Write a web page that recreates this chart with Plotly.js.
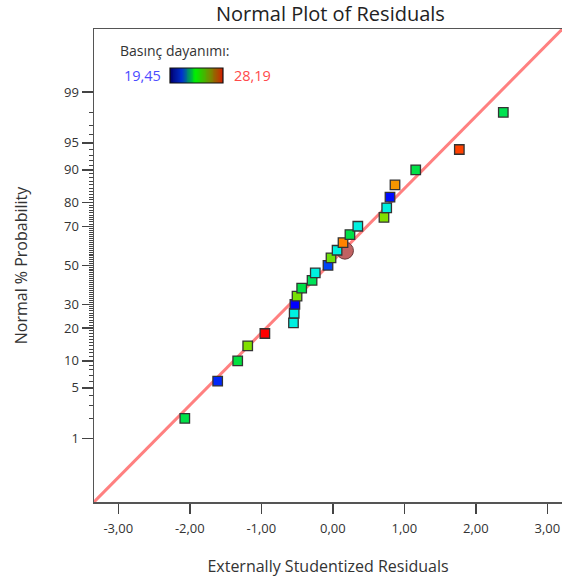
<!DOCTYPE html>
<html>
<head>
<meta charset="utf-8">
<script src="https://cdn.plot.ly/plotly-3.0.1.min.js"></script>
<style>html,body{margin:0;padding:0;background:#fff;}#chart{width:562px;height:582px;}</style>
</head>
<body>
<div id="chart"></div>
<script>
// ---- data ----
const residuals = [-2.07, -1.61, -1.33, -1.19, -0.95, -0.55, -0.54, -0.53, -0.50, -0.435,
                   -0.29, -0.245, -0.067, -0.025, 0.06, 0.143, 0.24, 0.35, 0.716, 0.754,
                   0.80, 0.87, 1.16, 1.77, 2.385];
const probability = [2, 6, 10, 14, 18, 22, 26, 30, 34, 38, 42, 46, 50, 54, 58, 62, 66, 70,
                     74, 78, 82, 86, 90, 94, 98];
const response = [23.3, 19.8, 23.4, 24.7, 28.19, 21.6, 21.6, 19.45, 24.6, 23.3,
                  23.1, 21.6, 20.06, 24.5, 21.6, 26.6, 23.3, 21.6, 24.7, 21.6,
                  19.55, 26.3, 23.3, 27.4, 23.2];
const selectedX = [0.17];
const selectedProb = [57.8];
const lineX = [-3.34, 3.21];
const lineProb = [0.0744, 99.924];
const responseMin = 19.45;
const responseMax = 28.19;
const chartTitle = "Normal Plot of Residuals";
const legendTitle = "Basınç dayanımı:";
const legendMinLabel = "19,45";
const legendMaxLabel = "28,19";
const probMajorTicks = [1, 5, 10, 20, 30, 50, 70, 80, 90, 95, 99];
const probMajorLabels = ["1", "5", "10", "20", "30", "50", "70", "80", "90", "95", "99"];
const xTickVals = [-3, -2, -1, 0, 1, 2, 3];
const xTickLabels = ["-3,00", "-2,00", "-1,00", "0,00", "1,00", "2,00", "3,00"];

// ---- inverse normal CDF (probability axis transform) ----
function norminv(p){
  const a=[-3.969683028665376e+01,2.209460984245205e+02,-2.759285104469687e+02,1.383577518672690e+02,-3.066479806614716e+01,2.506628277459239e+00];
  const b=[-5.447609879822406e+01,1.615858368580409e+02,-1.556989798598866e+02,6.680131188771972e+01,-1.328068155288572e+01];
  const c=[-7.784894002430293e-03,-3.223964580411365e-01,-2.400758277161838e+00,-2.549732539343734e+00,4.374664141464968e+00,2.938163982698783e+00];
  const d=[7.784695709041462e-03,3.224671290700398e-01,2.445134137142996e+00,3.754408661907416e+00];
  const pl=0.02425; let q,r;
  if(p<pl){q=Math.sqrt(-2*Math.log(p));return (((((c[0]*q+c[1])*q+c[2])*q+c[3])*q+c[4])*q+c[5])/((((d[0]*q+d[1])*q+d[2])*q+d[3])*q+1);}
  if(p<=1-pl){q=p-0.5;r=q*q;return (((((a[0]*r+a[1])*r+a[2])*r+a[3])*r+a[4])*r+a[5])*q/(((((b[0]*r+b[1])*r+b[2])*r+b[3])*r+b[4])*r+1);}
  q=Math.sqrt(-2*Math.log(1-p));
  return -(((((c[0]*q+c[1])*q+c[2])*q+c[3])*q+c[4])*q+c[5])/((((d[0]*q+d[1])*q+d[2])*q+d[3])*q+1);
}
const toZ = pc => norminv(pc/100);

const minorVals = [];
for (let k = 1; k <= 99; k++) if (probMajorTicks.indexOf(k) < 0) minorVals.push(toZ(k));

const pointColorscale = [[0,'#0000ff'],[0.246,'#00f0e0'],[0.45,'#00e040'],[0.6,'#80e000'],[0.8,'#ff9000'],[1,'#ff0000']];
const legendColorscale = [[0,'#000070'],[0.22,'#0030d0'],[0.48,'#00f000'],[0.75,'#709000'],[1,'#d02000']];

const legendZ = [];
for (let k = 0; k <= 60; k++) legendZ.push(responseMin + (responseMax - responseMin) * k / 60);

const font = '"Open Sans", "Noto Sans", sans-serif';

const traces = [
  {x: lineX, y: lineProb.map(toZ), mode: 'lines', type: 'scatter',
   line: {color: '#ff8080', width: 3}, hoverinfo: 'skip', showlegend: false},
  {x: selectedX, y: selectedProb.map(toZ), mode: 'markers', type: 'scatter',
   marker: {symbol: 'circle', size: 17, color: 'rgb(192,98,98)', line: {color: '#6b3b3b', width: 1}},
   showlegend: false},
  {x: residuals, y: probability.map(toZ), mode: 'markers', type: 'scatter',
   marker: {symbol: 'square', size: 9.5, color: response, cmin: responseMin, cmax: responseMax,
            colorscale: pointColorscale, showscale: false, line: {color: '#333', width: 1.3}},
   showlegend: false},
  {z: [legendZ], type: 'heatmap', xaxis: 'x2', yaxis: 'y2', colorscale: legendColorscale,
   zmin: responseMin, zmax: responseMax, showscale: false, hoverinfo: 'skip'}
];

const layout = {
  width: 562, height: 582,
  margin: {l: 94, r: 0, t: 29, b: 80, pad: 0},
  paper_bgcolor: '#fff', plot_bgcolor: '#fff',
  font: {family: font, color: '#333', size: 13},
  xaxis: {range: [-3.34, 3.206], showgrid: false, zeroline: false,
          tickmode: 'array', tickvals: xTickVals, ticktext: xTickLabels,
          ticks: 'outside', ticklen: 10, tickwidth: 1.5, tickcolor: '#444', ticklabelstandoff: 4,
          showline: true, linecolor: '#555', linewidth: 1.5, mirror: true,
          tickfont: {size: 13, color: '#333'},
          title: {text: 'Externally Studentized Residuals', font: {size: 16, color: '#333'}, standoff: 24}},
  yaxis: {range: [-3.177, 3.172], showgrid: false, zeroline: false,
          tickmode: 'array', tickvals: probMajorTicks.map(toZ), ticktext: probMajorLabels,
          ticks: 'outside', ticklen: 11, tickwidth: 1.5, tickcolor: '#444',
          minor: {tickmode: 'array', tickvals: minorVals, ticks: 'outside', ticklen: 4, tickwidth: 1, tickcolor: '#444', showgrid: false},
          showline: true, linecolor: '#555', linewidth: 1.5,
          tickfont: {size: 13, color: '#333'},
          title: {text: 'Normal % Probability', font: {size: 16, color: '#333'}, standoff: 32}},
  xaxis2: {domain: [0.1624, 0.2756], anchor: 'y2', visible: false, fixedrange: true},
  yaxis2: {domain: [0.8858, 0.9175], anchor: 'x2', visible: false, fixedrange: true},
  shapes: [
    {type: 'rect', xref: 'paper', yref: 'paper', x0: 0.1624, x1: 0.2756, y0: 0.8858, y1: 0.9175,
     line: {color: '#111', width: 1.2}, fillcolor: 'rgba(0,0,0,0)'}
  ],
  annotations: [
    {text: chartTitle, xref: 'paper', yref: 'paper', x: 0.5064, y: 1.0338, xanchor: 'center', yanchor: 'middle',
     showarrow: false, font: {size: 20, color: '#222'}},
    {text: legendTitle, xref: 'paper', yref: 'paper', x: 0.0513, y: 0.9535, xanchor: 'left', yanchor: 'middle',
     showarrow: false, font: {size: 14, color: '#333'}},
    {text: legendMinLabel, xref: 'paper', yref: 'paper', x: 0.1474, y: 0.9015, xanchor: 'right', yanchor: 'middle',
     showarrow: false, font: {size: 14.5, color: '#4a4aff'}},
    {text: legendMaxLabel, xref: 'paper', yref: 'paper', x: 0.2949, y: 0.9015, xanchor: 'left', yanchor: 'middle',
     showarrow: false, font: {size: 14.5, color: '#ff4a4a'}}
  ]
};

Plotly.newPlot('chart', traces, layout, {displayModeBar: false, staticPlot: true});
</script>
</body>
</html>
